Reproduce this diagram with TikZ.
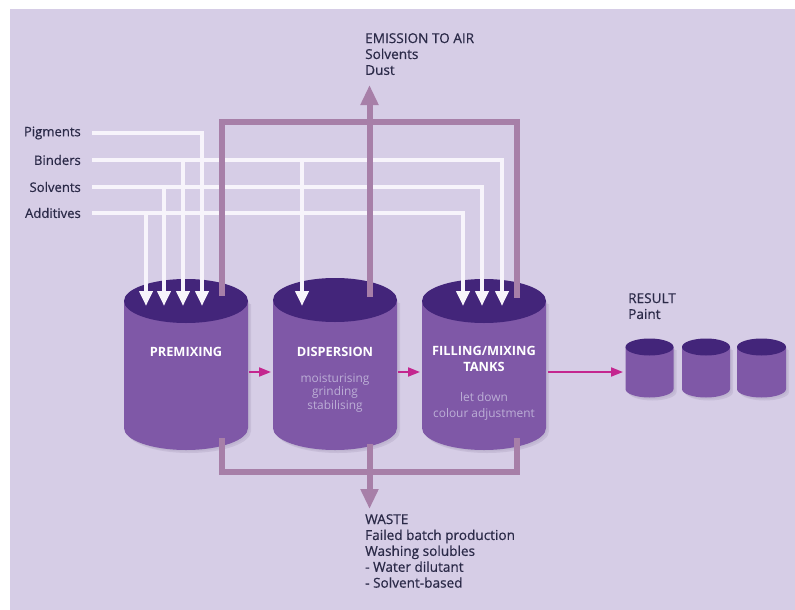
\documentclass[tikz,border=0pt]{standalone}
\usepackage{fontspec}
\setmainfont{Open Sans}
\newfontfamily\medfont{Open Sans}[FakeBold=0.6]
\usetikzlibrary{arrows.meta}
\definecolor{bgc}{HTML}{D6CDE6}
\definecolor{bodyc}{HTML}{7F58A7}
\definecolor{topc}{HTML}{43257A}
\definecolor{mauve}{HTML}{A77FA8}
\definecolor{magentac}{HTML}{C4268F}
\definecolor{subc}{HTML}{BCAED6}
\definecolor{txtc}{HTML}{2B2A48}
\definecolor{feedc}{HTML}{F7F4FB}
\definecolor{shadc}{HTML}{B9AECB}
\newcommand\tank[6]{% cx, ytop, ybot, rx, ry, name
  \fill[shadc,opacity=0.5] (#1-#4+3,-#2-3) -- (#1-#4+3,-#3-3) arc[start angle=180,end angle=360,x radius=#4,y radius=#5] -- (#1+#4+3,-#2-3) -- cycle;
  \fill[shadc,opacity=0.5] (#1-#4+1.5,-#2-1.5) -- (#1-#4+1.5,-#3-1.5) arc[start angle=180,end angle=360,x radius=#4,y radius=#5] -- (#1+#4+1.5,-#2-1.5) -- cycle;
  \fill[bodyc] (#1-#4,-#2) -- (#1-#4,-#3) arc[start angle=180,end angle=360,x radius=#4,y radius=#5] -- (#1+#4,-#2) -- cycle;
  \fill[topc] (#1,-#2) ellipse[x radius=#4,y radius=#5];
  \coordinate (#6) at (#1,-#2);
}
\begin{document}
\begin{tikzpicture}[x=1pt,y=1pt,
  txt/.style={text=txtc,font=\medfont\fontsize{13.6}{15.9}\selectfont,inner sep=0pt,align=left},
  inlab/.style={text=txtc,font=\medfont\fontsize{13.1}{14}\selectfont,inner sep=0pt,anchor=east},
  tanklab/.style={text=white,font=\bfseries\fontsize{12.8}{16}\selectfont,inner sep=0pt,align=center},
  sublab/.style={text=subc,font=\fontsize{11.9}{13.5}\selectfont,inner sep=0pt,align=center},
  feed/.style={draw=feedc,line width=4.5pt,-{Triangle[width=13pt,length=15pt]}},
  flowline/.style={draw=mauve,line width=6pt},
  flowarrow/.style={draw=mauve,line width=6pt,-{Triangle[width=17pt,length=20pt]}},
  prod/.style={draw=magentac,line width=1.8pt,-{Triangle[width=9pt,length=12pt]}}]
\useasboundingbox (0,0) rectangle (795,-610);
\fill[white] (0,0) rectangle (795,-610);
\fill[bgc] (10,-9) rectangle (795,-610);

% tanks
\tank{186}{301}{428}{62}{22}{pre}
\tank{335}{300}{428}{62}{22}{dis}
\tank{484}{301}{428}{62}{22}{fil}
\tank{649.5}{347}{389}{24}{8.5}{r1}
\tank{706}{347}{389}{24}{8.5}{r2}
\tank{761.5}{347}{389}{24.5}{8.5}{r3}

% input labels
\node[inlab] (pig) at (81,-133) {Pigments};
\node[inlab] (bin) at (81,-160) {Binders};
\node[inlab] (sol) at (81,-187) {Solvents};
\node[inlab] (add) at (81,-213) {Additives};
\coordinate (pigS) at (92,-133);
\coordinate (binS) at (92,-160);
\coordinate (solS) at (92,-187);
\coordinate (addS) at (92,-213);
\coordinate (p1) at (146,-306);
\coordinate (p2) at (164,-306);
\coordinate (p3) at (183,-306);
\coordinate (p4) at (202,-306);
\coordinate (d1) at (302,-306);
\coordinate (f1) at (463,-306);
\coordinate (f2) at (482,-306);
\coordinate (f3) at (502,-306);

% feed lines
\draw[feed] (pigS) -| (p4);
\draw[feed] (binS) -| (p3);
\draw[feed] (binS) -| (d1);
\draw[feed] (binS) -| (f3);
\draw[feed] (solS) -| (p2);
\draw[feed] (solS) -| (f2);
\draw[feed] (addS) -| (p1);
\draw[feed] (addS) -| (f1);

% emission / waste
\coordinate (preT) at (222,-296);
\coordinate (filT) at (517,-298);
\coordinate (disT) at (369.5,-297);
\coordinate (emTip) at (369.5,-85);
\coordinate (preB) at (222,-438);
\coordinate (filB) at (517,-438);
\coordinate (disB) at (369.5,-444);
\coordinate (waTip) at (369.5,-509);
\draw[flowline] (preT) -- (222,-122) -- (517,-122) -- (filT);
\draw[flowarrow] (disT) -- (emTip);
\draw[flowline] (preB) -- (222,-472) -- (517,-472) -- (filB);
\draw[flowarrow] (disB) -- (waTip);

% product arrows
\coordinate (a1s) at (249,-372);
\coordinate (a1e) at (271,-372);
\coordinate (a2s) at (398,-372);
\coordinate (a2e) at (420,-372);
\coordinate (a3s) at (548,-372);
\coordinate (a3e) at (623,-372);
\draw[prod] (a1s) -- (a1e);
\draw[prod] (a2s) -- (a2e);
\draw[prod] (a3s) -- (a3e);

% tank labels
\node[tanklab] (lpre) at (186,-352) {PREMIXING};
\node[tanklab] (ldis) at (335,-352) {DISPERSION};
\node[sublab] (sdis) at (335,-393) {moisturising\\grinding\\stabilising};
\node[tanklab] (lfil) at (484,-359) {FILLING/MIXING\\TANKS};
\node[sublab,font=\fontsize{11.9}{16}\selectfont] (sfil) at (484,-406) {let down\\colour adjustment};

% texts
\node[txt,anchor=north west] (emis) at (365,-33) {EMISSION TO AIR\\Solvents\\Dust};
\node[txt,anchor=north west] (waste) at (365,-514) {WASTE\\Failed batch production\\Washing solubles\\- Water dilutant\\- Solvent-based};
\node[txt,anchor=north west] (res) at (628,-293) {RESULT\\Paint};
\end{tikzpicture}
\end{document}
